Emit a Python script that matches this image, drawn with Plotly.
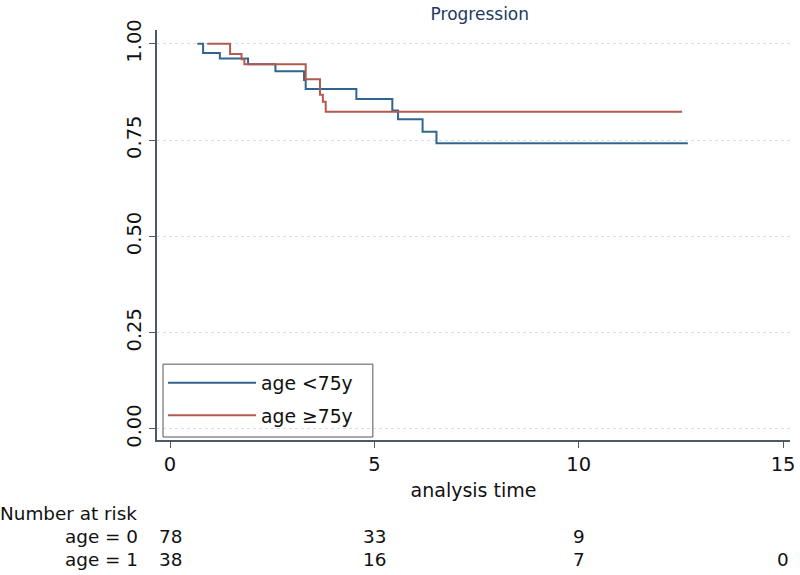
import plotly.graph_objects as go

# Kaplan-Meier step data
blue_t = [0.67, 0.81, 1.22, 1.91, 2.58, 3.28, 3.32, 4.56, 5.44, 5.58, 6.18, 6.52, 12.67]
blue_s = [1.0, 0.976, 0.962, 0.947, 0.929, 0.906, 0.883, 0.857, 0.827, 0.804, 0.772, 0.742, 0.742]
red_t = [0.91, 1.47, 1.75, 1.82, 3.32, 3.67, 3.74, 3.81, 12.53]
red_s = [1.0, 0.974, 0.960, 0.947, 0.908, 0.868, 0.850, 0.824, 0.824]

series_names = ["age <75y", "age \u226575y"]
x_ticks = [0, 5, 10, 15]
y_ticks = [0.0, 0.25, 0.5, 0.75, 1.0]
y_tick_labels = ["0.00", "0.25", "0.50", "0.75", "1.00"]

risk_times = [0, 5, 10, 15]
risk_age0 = ["78", "33", "9", ""]
risk_age1 = ["38", "16", "7", "0"]
risk_labels = ["age = 0", "age = 1"]

FONT = "DejaVu Sans, Verdana, sans-serif"
BLUE = "#30658f"
RED = "#b35a50"
AXIS = "#4d5a63"
TXT = "#111111"

fig = go.Figure()
fig.add_trace(go.Scatter(x=blue_t, y=blue_s, mode="lines", line=dict(color=BLUE, width=2, shape="hv"),
                         name=series_names[0], legendgroup="g0"))
fig.add_trace(go.Scatter(x=red_t, y=red_s, mode="lines", line=dict(color=RED, width=2, shape="hv"),
                         name=series_names[1], legendgroup="g1"))

row_y = [-0.236, -0.292]
RS = 18.4
annotations = [
    dict(text="Number at risk", x=0, xref="paper", xanchor="left", xshift=-159, y=-0.18, yref="paper",
         yanchor="middle", showarrow=False, font=dict(size=RS, color=TXT)),
]
for lab, yy in zip(risk_labels, row_y):
    annotations.append(dict(text=lab, x=0, xref="paper", xanchor="right", xshift=-17, y=yy, yref="paper",
                            yanchor="middle", showarrow=False, font=dict(size=RS, color=TXT)))
for t, a0, a1 in zip(risk_times, risk_age0, risk_age1):
    if a0:
        annotations.append(dict(text=a0, x=t, xref="x", xanchor="center", y=row_y[0], yref="paper",
                                yanchor="middle", showarrow=False, font=dict(size=RS, color=TXT)))
    annotations.append(dict(text=a1, x=t, xref="x", xanchor="center", y=row_y[1], yref="paper",
                            yanchor="middle", showarrow=False, font=dict(size=RS, color=TXT)))

fig.update_layout(
    width=800, height=575,
    margin=dict(l=157, r=10, t=30, b=135, autoexpand=False),
    paper_bgcolor="white", plot_bgcolor="white",
    font=dict(family=FONT, color=TXT, size=19),
    title=dict(text="Progression", x=0.51, xref="paper", xanchor="center", y=0.975, yanchor="middle",
               font=dict(size=17, color="#1e3a5f")),
    showlegend=True,
    legend=dict(x=0.0095, y=0.185, xanchor="left", yanchor="top", borderwidth=0,
                bgcolor="rgba(255,255,255,0)", font=dict(size=18.8, color=TXT), itemwidth=88,
                tracegroupgap=5),
    shapes=[dict(type="rect", xref="paper", yref="paper", x0=0.0095, x1=0.341, y0=0.0073, y1=0.185,
                 line=dict(color="#555", width=1), fillcolor="rgba(0,0,0,0)", layer="above")],
    annotations=annotations,
)
fig.update_xaxes(range=[-0.318, 15.17], tickvals=x_ticks, ticks="outside", ticklen=6, tickcolor=AXIS,
                 showline=True, linecolor=AXIS, linewidth=1.5, showgrid=False, zeroline=False,
                 automargin=False, tickfont=dict(size=19.5),
                 title=dict(text="analysis time", font=dict(size=19), standoff=9))
fig.update_yaxes(range=[-0.0286, 1.036], tickvals=y_ticks, ticktext=y_tick_labels, ticks="outside", ticklen=6,
                 tickcolor=AXIS, showline=True, linecolor=AXIS, linewidth=1.5, showgrid=True,
                 gridcolor="#d5dde5", griddash="dot", gridwidth=1, zeroline=False, tickangle=-90,
                 automargin=False, tickfont=dict(size=19.5))

fig.write_html("out.html", config={"displayModeBar": False},
               post_script="document.body.style.margin='0px';")
